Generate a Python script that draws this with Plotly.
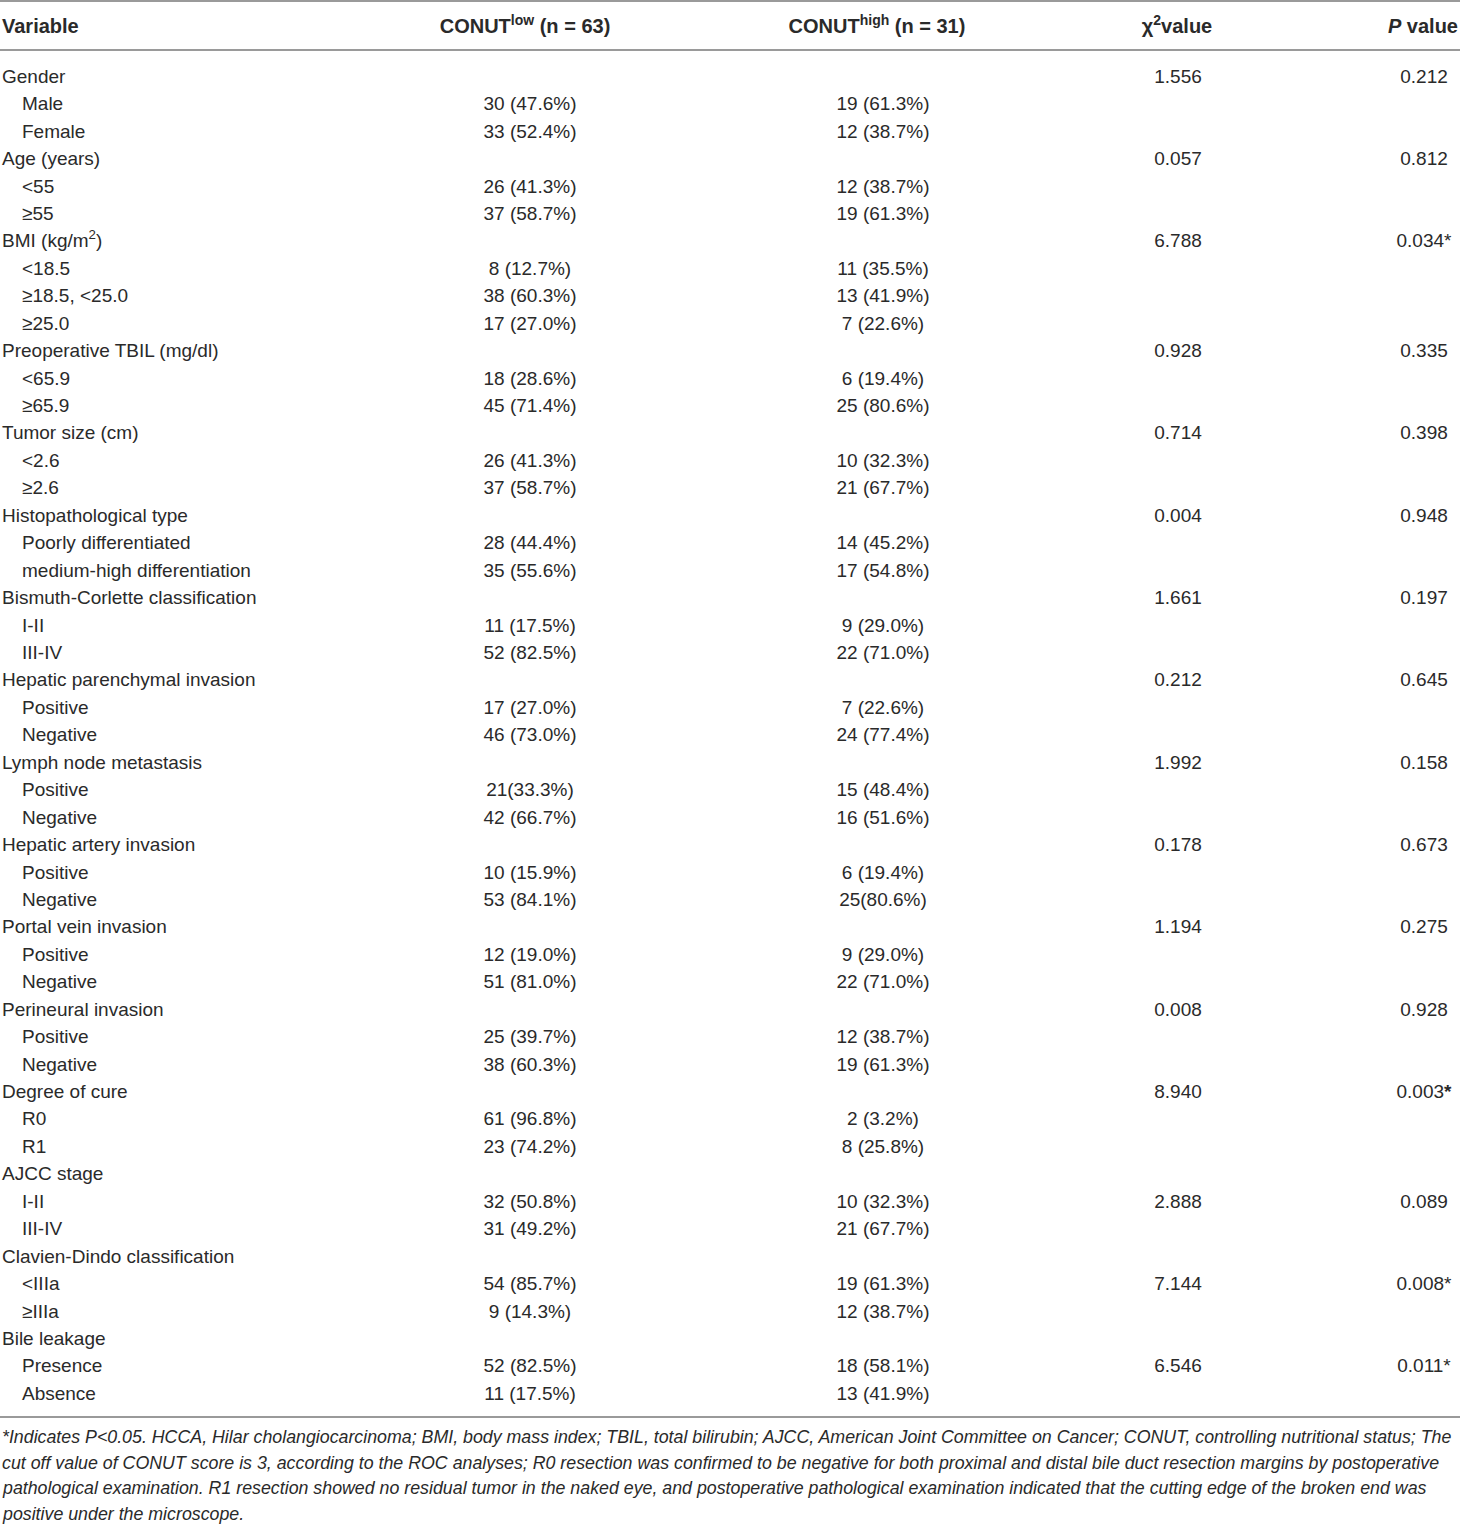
import plotly.graph_objects as go

# table content
groups = ["Gender", "Age (years)", "BMI (kg/m<sup>2</sup>)", "Preoperative TBIL (mg/dl)",
          "Tumor size (cm)", "Histopathological type", "Bismuth-Corlette classification",
          "Hepatic parenchymal invasion", "Lymph node metastasis", "Hepatic artery invasion",
          "Portal vein invasion", "Perineural invasion", "Degree of cure", "AJCC stage",
          "Clavien-Dindo classification", "Bile leakage"]
levels = [["Male", "Female"], ["<55", "≥55"], ["<18.5", "≥18.5, <25.0", "≥25.0"],
          ["<65.9", "≥65.9"], ["<2.6", "≥2.6"],
          ["Poorly differentiated", "medium-high differentiation"], ["I-II", "III-IV"],
          ["Positive", "Negative"], ["Positive", "Negative"], ["Positive", "Negative"],
          ["Positive", "Negative"], ["Positive", "Negative"], ["R0", "R1"], ["I-II", "III-IV"],
          ["<IIIa", "≥IIIa"], ["Presence", "Absence"]]
conut_low = [["30 (47.6%)", "33 (52.4%)"], ["26 (41.3%)", "37 (58.7%)"],
             ["8 (12.7%)", "38 (60.3%)", "17 (27.0%)"], ["18 (28.6%)", "45 (71.4%)"],
             ["26 (41.3%)", "37 (58.7%)"], ["28 (44.4%)", "35 (55.6%)"],
             ["11 (17.5%)", "52 (82.5%)"], ["17 (27.0%)", "46 (73.0%)"],
             ["21(33.3%)", "42 (66.7%)"], ["10 (15.9%)", "53 (84.1%)"],
             ["12 (19.0%)", "51 (81.0%)"], ["25 (39.7%)", "38 (60.3%)"],
             ["61 (96.8%)", "23 (74.2%)"], ["32 (50.8%)", "31 (49.2%)"],
             ["54 (85.7%)", "9 (14.3%)"], ["52 (82.5%)", "11 (17.5%)"]]
conut_high = [["19 (61.3%)", "12 (38.7%)"], ["12 (38.7%)", "19 (61.3%)"],
              ["11 (35.5%)", "13 (41.9%)", "7 (22.6%)"], ["6 (19.4%)", "25 (80.6%)"],
              ["10 (32.3%)", "21 (67.7%)"], ["14 (45.2%)", "17 (54.8%)"],
              ["9 (29.0%)", "22 (71.0%)"], ["7 (22.6%)", "24 (77.4%)"],
              ["15 (48.4%)", "16 (51.6%)"], ["6 (19.4%)", "25(80.6%)"],
              ["9 (29.0%)", "22 (71.0%)"], ["12 (38.7%)", "19 (61.3%)"],
              ["2 (3.2%)", "8 (25.8%)"], ["10 (32.3%)", "21 (67.7%)"],
              ["19 (61.3%)", "12 (38.7%)"], ["18 (58.1%)", "13 (41.9%)"]]
chi2 = ["1.556", "0.057", "6.788", "0.928", "0.714", "0.004", "1.661", "0.212",
        "1.992", "0.178", "1.194", "0.008", "8.940", "2.888", "7.144", "6.546"]
p_values = ["0.212", "0.812", "0.034*", "0.335", "0.398", "0.948", "0.197", "0.645",
            "0.158", "0.673", "0.275", "0.928", "0.003<b>*</b>", "0.089", "0.008*", "0.011*"]
# 0 = stats on the group row, 1 = on the first level row
stat_row = [0] * 13 + [1, 1, 1]

headers = ["<b>Variable</b>", "<b>CONUT<sup>low</sup> (n = 63)</b>",
           "<b>CONUT<sup>high</sup> (n = 31)</b>", "<b>χ<sup>2</sup>value</b>",
           "<b><i>P</i> value</b>"]

footnote = [
    "*Indicates P&lt;0.05. HCCA, Hilar cholangiocarcinoma; BMI, body mass index; TBIL, total bilirubin; AJCC, American Joint Committee on Cancer; CONUT, controlling nutritional status; The",
    "cut off value of CONUT score is 3, according to the ROC analyses; R0 resection was confirmed to be negative for both proximal and distal bile duct resection margins by postoperative",
    "pathological examination. R1 resection showed no residual tumor in the naked eye, and postoperative pathological examination indicated that the cutting edge of the broken end was",
    "positive under the microscope.",
]


def esc(s):
    return s.replace("<", "&lt;")


# flatten into rows
lab, lab_x, low, high, chi, pv = [], [], [], [], [], []
for g, name in enumerate(groups):
    rows = [name] + [esc(l) for l in levels[g]]
    lo = [""] + conut_low[g]
    hi = [""] + conut_high[g]
    for k, r in enumerate(rows):
        lab.append(r)
        lab_x.append(2 if k == 0 else 22)
        low.append(lo[k])
        high.append(hi[k])
        chi.append(chi2[g] if k == stat_row[g] else "")
        pv.append(p_values[g] if k == stat_row[g] else "")

W, H = 1460, 1526
ROW0, ROW_H = 78, 27.44
ys = [ROW0 + ROW_H * i for i in range(len(lab))]

FONT = "Liberation Sans, Arial, Helvetica, sans-serif"
INK = "#2a2a2a"
fnt = dict(family=FONT, size=19, color=INK)


def column(x, texts, pos):
    keep = [i for i, t in enumerate(texts) if t]
    return go.Scatter(x=[x] * len(keep), y=[ys[i] for i in keep],
                      text=[texts[i] for i in keep], mode="text", textposition=pos,
                      textfont=fnt, hoverinfo="skip", cliponaxis=False)


fig = go.Figure()
fig.add_trace(column(2, [t if x == 2 else "" for t, x in zip(lab, lab_x)], "middle right"))
fig.add_trace(column(22, [t if x == 22 else "" for t, x in zip(lab, lab_x)], "middle right"))
fig.add_trace(column(530, low, "middle center"))
fig.add_trace(column(883, high, "middle center"))
fig.add_trace(column(1178, chi, "middle center"))
fig.add_trace(column(1424, pv, "middle center"))
# header
fig.add_trace(go.Scatter(x=[2, 525, 877, 1177, 1458], y=[28] * 5, text=headers, mode="text",
                         textposition=["middle right", "middle center", "middle center",
                                       "middle center", "middle left"],
                         textfont=dict(family=FONT, size=20, color=INK), hoverinfo="skip",
                         cliponaxis=False))

# rules
for yy in [1, 50, 1417]:
    fig.add_shape(type="line", x0=0, x1=W, y0=yy, y1=yy, line=dict(color="#9a9a9a", width=2))

for i, line in enumerate(footnote):
    fig.add_annotation(x=0, y=1437 + 25.7 * i, text="<i>" + line + "</i>", showarrow=False,
                       xanchor="left", yanchor="middle",
                       font=dict(family=FONT, size=17.8, color=INK))

fig.update_layout(width=W, height=H, margin=dict(l=0, r=0, t=0, b=0),
                  paper_bgcolor="white", plot_bgcolor="white", showlegend=False,
                  xaxis=dict(range=[0, W], visible=False, fixedrange=True),
                  yaxis=dict(range=[H, 0], visible=False, fixedrange=True))
# drop the default page margin so the figure fills the window
fig.write_html("out.html", config={"displayModeBar": False},
               post_script="document.body.style.margin = '0';")
